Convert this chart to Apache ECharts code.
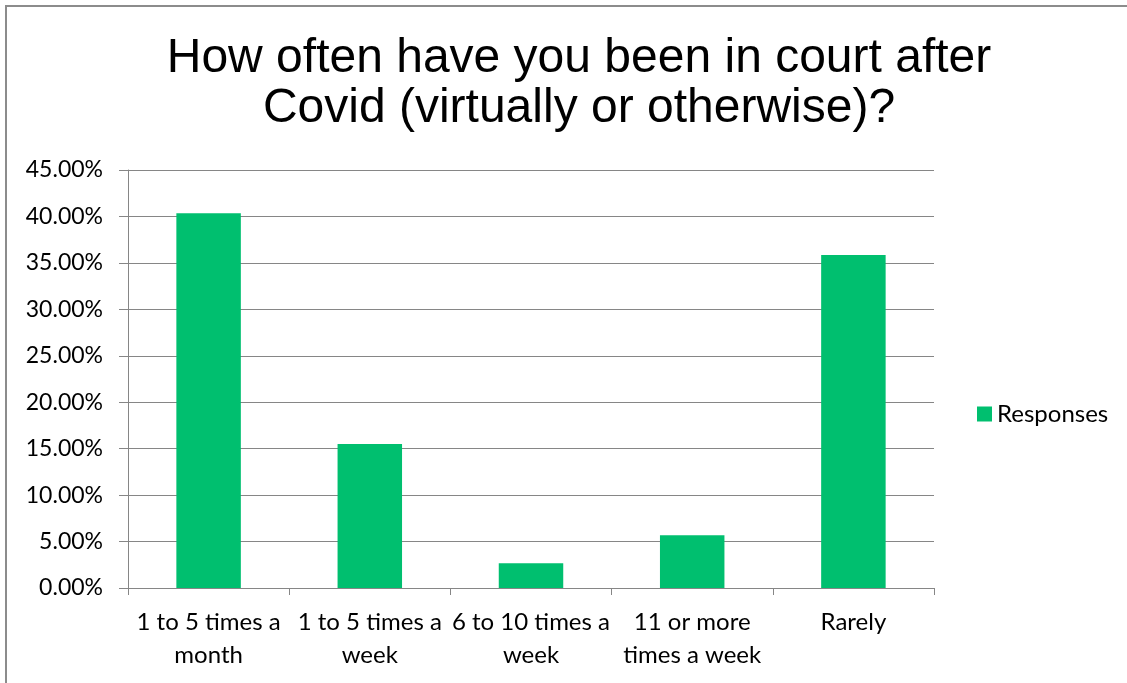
<!DOCTYPE html>
<html>
<head>
<meta charset="utf-8">
<script src="https://cdn.jsdelivr.net/npm/echarts@6/dist/echarts.min.js"></script>
<style>
  html, body { margin: 0; padding: 0; background: #fff; }
  #chart { width: 1127px; height: 683px; }
</style>
</head>
<body>
<div id="chart"></div>
<script>
// Survey answers: share of respondents per frequency band
const categories = [
  '1 to 5 times a\nmonth',
  '1 to 5 times a\nweek',
  '6 to 10 times a\nweek',
  '11 or more\ntimes a week',
  'Rarely'
];
const responses = [40.35, 15.5, 2.66, 5.67, 35.85];
const seriesName = 'Responses';
const titleText = 'How often have you been in court after\nCovid (virtually or otherwise)?';

const axisGrey = '#868686';
const textFont = 'Lato, "Open Sans", sans-serif';

const chart = echarts.init(document.getElementById('chart'));
chart.setOption({
  backgroundColor: '#ffffff',
  animation: false,
  title: {
    text: titleText,
    left: 574,
    textAlign: 'center',
    top: 29,
    textStyle: {
      fontFamily: '"Liberation Sans", Arial, sans-serif',
      fontSize: 48,
      fontWeight: 'normal',
      color: '#000',
      lineHeight: 50
    }
  },
  legend: {
    data: [seriesName],
    orient: 'vertical',
    left: 972,
    top: 397,
    itemWidth: 15,
    itemHeight: 15,
    itemGap: 6,
    icon: 'rect',
    textStyle: { fontFamily: textFont, fontSize: 24, color: '#000' }
  },
  grid: { left: 128, right: 193, top: 170, bottom: 95, containLabel: false },
  xAxis: {
    type: 'category',
    data: categories,
    axisLine: { lineStyle: { color: axisGrey, width: 1 } },
    axisTick: { show: true, length: 7, lineStyle: { color: axisGrey } },
    axisLabel: {
      interval: 0,
      margin: 18,
      fontFamily: textFont,
      fontSize: 24,
      color: '#000',
      lineHeight: 33
    }
  },
  yAxis: {
    type: 'value',
    min: 0,
    max: 45,
    interval: 5,
    axisLine: { show: true, lineStyle: { color: axisGrey, width: 1 } },
    axisTick: { show: true, length: 9, lineStyle: { color: axisGrey } },
    splitLine: { lineStyle: { color: axisGrey, width: 1 } },
    axisLabel: {
      margin: 25,
      fontFamily: textFont,
      fontSize: 23,
      color: '#000',
      formatter: v => v.toFixed(2) + '%'
    }
  },
  series: [{
    name: seriesName,
    type: 'bar',
    data: responses,
    barCategoryGap: '60%',
    itemStyle: { color: '#00BF6F' }
  }],
  graphic: [{
    type: 'polyline',
    shape: { points: [[6, 683], [6, 6], [1127, 6]] },
    style: { stroke: '#8c8c8c', lineWidth: 2, fill: null }
  }]
});
</script>
</body>
</html>
